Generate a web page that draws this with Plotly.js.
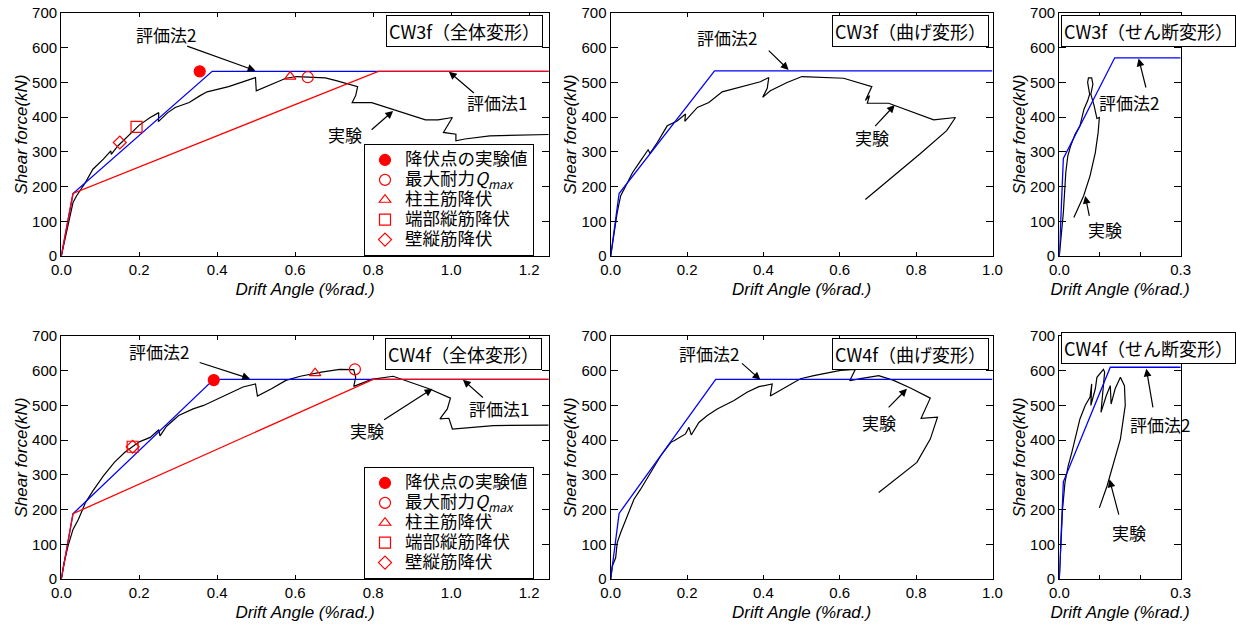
<!DOCTYPE html>
<html><head><meta charset="utf-8">
<script src="https://cdn.plot.ly/plotly-3.0.1.min.js"></script>
<style>html,body{margin:0;padding:0;background:#fff}#chart{width:1236px;height:626px}</style>
</head><body><div id="chart"></div>
<script>
// ---------- DATA ----------
// CW3f 全体変形
const cw3TotExpX = [0,0.017,0.03,0.039,0.062,0.081,0.108,0.127,0.128,0.145,0.172,0.2,0.228,0.25,0.249,0.273,0.292,0.328,0.356,0.374,0.429,0.475,0.498,0.5,0.521,0.549,0.576,0.604,0.631,0.677,0.705,0.76,0.755,0.746,0.796,0.833,0.934,0.966,1.003,0.98,1.012,1.012,1.035,1.099,1.25];
const cw3TotExpY = [0,87,154,173,212,250,279,303,293,317,346,377,399,413,387,413,428,442,462,473,488,505,514,476,486,500,512,517,516,513,505,488,462,442,442,428,392,392,399,356,351,332,337,346,350];
const cw3TotEv2X = [0,0.03,0.387,1.25];
const cw3TotEv2Y = [0,180,532,532];
const cw3TotEv1X = [0,0.03,0.813,1.25];
const cw3TotEv1Y = [0,180,532,532];
const cw3MarkX = [0.355,0.632,0.587,0.193,0.15];   // 降伏点, Qmax, 柱主筋, 端部縦筋, 壁縦筋
const cw3MarkY = [532,515,517,372,327];
// CW3f 曲げ変形
const cw3BenExpX = [0,0.009,0.017,0.026,0.039,0.057,0.078,0.098,0.103,0.122,0.148,0.174,0.196,0.194,0.227,0.257,0.292,0.34,0.392,0.414,0.41,0.398,0.418,0.462,0.501,0.61,0.684,0.667,0.678,0.672,0.728,0.846,0.903,0.88,0.809,0.667];
const cw3BenExpY = [0,67,125,173,202,240,274,306,296,327,375,389,409,388,428,442,473,486,502,514,483,457,476,500,517,512,488,448,462,440,440,392,399,361,293,163];
const cw3BenEv2X = [0,0.022,0.272,1.0];
const cw3BenEv2Y = [0,180,533,533];
// CW3f せん断変形
const cw3ShrExpX = [0,0.01,0.016,0.021,0.028,0.039,0.051,0.061,0.07,0.075,0.07,0.072,0.08,0.083,0.078,0.086,0.093,0.099,0.096,0.089,0.076,0.06,0.036];
const cw3ShrExpY = [0,125,240,288,317,351,375,423,447,466,500,513,513,495,466,433,396,399,356,298,231,173,111];
const cw3ShrEv2X = [0,0.01,0.137,0.3];
const cw3ShrEv2Y = [0,281,571,571];
// CW4f 全体変形
const cw4TotExpX = [0,0.007,0.017,0.03,0.044,0.062,0.081,0.108,0.136,0.163,0.2,0.228,0.25,0.253,0.255,0.27,0.301,0.338,0.365,0.402,0.439,0.466,0.498,0.503,0.539,0.576,0.613,0.667,0.714,0.75,0.755,0.75,0.796,0.851,0.943,0.998,0.99,0.971,0.994,1.003,1.108,1.25];
const cw4TotExpY = [0,46,94,143,172,220,254,297,336,365,395,408,430,412,415,440,471,490,500,519,538,553,562,527,548,572,584,596,604,603,581,555,575,584,548,521,490,461,463,432,442,443];
const cw4TotEv2X = [0,0.03,0.391,1.25];
const cw4TotEv2Y = [0,188,575,575];
const cw4TotEv1X = [0,0.03,0.8,1.25];
const cw4TotEv1Y = [0,188,575,575];
const cw4MarkX = [0.391,0.753,0.651,0.183,0.183];
const cw4MarkY = [573,604,593,381,381];
// CW4f 曲げ変形
const cw4BenExpX = [0,0.004,0.013,0.017,0.026,0.044,0.061,0.078,0.105,0.131,0.157,0.166,0.196,0.205,0.211,0.231,0.253,0.279,0.323,0.357,0.388,0.423,0.418,0.462,0.497,0.532,0.602,0.641,0.626,0.654,0.702,0.741,0.785,0.837,0.813,0.856,0.837,0.802,0.702];
const cw4BenExpY = [0,37,61,104,133,186,230,258,307,355,393,398,418,437,415,451,471,490,514,538,554,562,527,555,577,586,601,604,571,577,586,572,550,521,463,466,403,336,249];
const cw4BenEv2X = [0,0.022,0.275,1.0];
const cw4BenEv2Y = [0,189,575,575];
// CW4f せん断変形
const cw4ShrExpX = [0,0.004,0.008,0.014,0.022,0.031,0.039,0.051,0.064,0.076,0.08,0.078,0.089,0.093,0.109,0.112,0.103,0.116,0.126,0.128,0.138,0.151,0.161,0.163,0.151,0.134,0.118,0.099];
const cw4ShrExpY = [0,104,201,278,326,365,403,461,500,524,562,500,548,581,604,596,480,528,557,504,548,581,557,500,403,336,268,205];
const cw4ShrEv2X = [0,0.01,0.126,0.3];
const cw4ShrEv2Y = [0,280,610,610];

const markerNames = ['降伏点の実験値','最大耐力<i>Q</i><sub><i>max</i></sub>','柱主筋降伏','端部縦筋降伏','壁縦筋降伏'];
const panelTitles = ['CW3f（全体変形）','CW3f（曲げ変形）','CW3f（せん断変形）','CW4f（全体変形）','CW4f（曲げ変形）','CW4f（せん断変形）'];
const xTitle = 'Drift Angle (%rad.)';
const yTitle = 'Shear force(kN)';

// ---------- STYLE ----------
const W = 1236, H = 626;
const px = v => v / W, py = v => 1 - v / H;
const JP = 'Noto Sans CJK JP, sans-serif';
const LAT = 'Liberation Sans, Arial, sans-serif';
const BLUE = '#0000ff', RED = '#ff0000';

const traces = [];
function line(x, y, color, ax, w) {
  traces.push({x, y, type:'scatter', mode:'lines', line:{color, width:w||1.3}, showlegend:false, hoverinfo:'skip', xaxis:'x'+ax, yaxis:'y'+ax});
}
const symbols = [
  {symbol:'circle', size:11},
  {symbol:'circle-open', size:11},
  {symbol:'triangle-up-open', size:10},
  {symbol:'square-open', size:11},
  {symbol:'diamond-open', size:10}
];
function marks(mx, my, ax, legendId) {
  for (let i = 0; i < mx.length; i++) {
    traces.push({x:[mx[i]], y:[my[i]], type:'scatter', mode:'markers',
      name:'<span style="font-size:17.5px">' + markerNames[i] + '</span>',
      marker:{symbol:symbols[i].symbol, size:symbols[i].size, color:RED, line:{color:RED, width:1.2}},
      xaxis:'x'+ax, yaxis:'y'+ax, legend:legendId, showlegend:true});
  }
}
// panel 1
line(cw3TotExpX, cw3TotExpY, '#000', '', 1.2);
line(cw3TotEv2X, cw3TotEv2Y, BLUE, '');
line(cw3TotEv1X, cw3TotEv1Y, RED, '');
marks(cw3MarkX, cw3MarkY, '', 'legend');
// panel 2
line(cw3BenExpX, cw3BenExpY, '#000', '2', 1.2);
line(cw3BenEv2X, cw3BenEv2Y, BLUE, '2');
// panel 3
line(cw3ShrExpX, cw3ShrExpY, '#000', '3', 1.2);
line(cw3ShrEv2X, cw3ShrEv2Y, BLUE, '3');
// panel 4
line(cw4TotExpX, cw4TotExpY, '#000', '4', 1.2);
line(cw4TotEv2X, cw4TotEv2Y, BLUE, '4');
line(cw4TotEv1X, cw4TotEv1Y, RED, '4');
marks(cw4MarkX, cw4MarkY, '4', 'legend2');
// panel 5
line(cw4BenExpX, cw4BenExpY, '#000', '5', 1.2);
line(cw4BenEv2X, cw4BenEv2Y, BLUE, '5');
// panel 6
line(cw4ShrExpX, cw4ShrExpY, '#000', '6', 1.2);
line(cw4ShrEv2X, cw4ShrEv2Y, BLUE, '6');

const colsX = [[61.3,548.7],[610.7,992.5],[1059.3,1180.7]];
const rowsY = [[13,256],[336,579]];
const xRanges = [[0,1.25],[0,1.0],[0,0.3]];

function xAxis(col, row, anchor) {
  const a = {
    domain:[px(colsX[col][0]), px(colsX[col][1])], anchor, range:xRanges[col],
    showline:true, linecolor:'#000', linewidth:1.2, mirror:'ticks', ticks:'inside', ticklen:4, tickwidth:1, tickcolor:'#000',
    showgrid:false, zeroline:false, fixedrange:true,
    tickfont:{family:LAT, size:15, color:'#000'},
    title:{text:'<i>'+xTitle+'</i>', standoff:5, font:{family:LAT, size:17, color:'#000'}}
  };
  if (col === 2) { a.tickvals = [0,0.1,0.2,0.3]; a.ticktext = ['0.0','','','0.3']; }
  else { a.dtick = 0.2; a.tickformat = '.1f'; }
  return a;
}
function yAxis(col, row, anchor) {
  return {
    domain:[py(rowsY[row][1]), py(rowsY[row][0])], anchor, range:[0,700], dtick:100,
    showline:true, linecolor:'#000', linewidth:1.2, mirror:'ticks', ticks:'inside', ticklen:7, tickwidth:1, tickcolor:'#000',
    showgrid:false, zeroline:false, fixedrange:true,
    tickfont:{family:LAT, size:15, color:'#000'},
    title:{text:'<i>'+yTitle+'</i>', standoff:0, font:{family:LAT, size:17, color:'#000'}}
  };
}

const layout = {
  width:W, height:H, margin:{l:0,r:0,t:0,b:0}, paper_bgcolor:'#fff', plot_bgcolor:'#fff',
  font:{family:JP, color:'#000'}, showlegend:true,
  legend:{x:px(364), y:py(144), xanchor:'left', yanchor:'top', bgcolor:'#fff', bordercolor:'#000', borderwidth:1,
    font:{family:JP, size:13, color:'#000'}, tracegroupgap:0},
  legend2:{x:px(364), y:py(467), xanchor:'left', yanchor:'top', bgcolor:'#fff', bordercolor:'#000', borderwidth:1,
    font:{family:JP, size:13, color:'#000'}, tracegroupgap:0},
  annotations:[], shapes:[]
};
const axIds = ['', '2', '3', '4', '5', '6'];
for (let r = 0; r < 2; r++) for (let c = 0; c < 3; c++) {
  const k = r*3 + c, id = axIds[k];
  layout['xaxis'+id] = xAxis(c, r, 'y'+id);
  layout['yaxis'+id] = yAxis(c, r, 'x'+id);
}

function label(ax, text, x, y) {
  layout.annotations.push({xref:'x'+ax, yref:'y'+ax, x, y, text, showarrow:false, xanchor:'center', yanchor:'middle',
    font:{family:JP, size:17, color:'#000'}});
}
function arrow(ax, tx, ty, hx, hy) {
  layout.annotations.push({xref:'x'+ax, yref:'y'+ax, axref:'x'+ax, ayref:'y'+ax, x:hx, y:hy, ax:tx, ay:ty, text:'',
    showarrow:true, arrowhead:2, arrowsize:1.3, arrowwidth:1.2, arrowcolor:'#000', standoff:0});
}
function boxTitle(text, cx, cy) {
  layout.annotations.push({xref:'paper', yref:'paper', x:px(cx), y:py(cy), xanchor:'center', yanchor:'middle', text, showarrow:false,
    font:{family:JP, size:18, color:'#000'}, bordercolor:'#000', borderwidth:1, borderpad:2, bgcolor:'#fff'});
}
// panel 1
label('', '評価法2', 0.269, 639); arrow('', 0.319, 606, 0.498, 534);
label('', '評価法1', 1.117, 442); arrow('', 1.062, 466, 0.994, 531);
label('', '実験', 0.728, 351); arrow('', 0.792, 360, 0.851, 418);
// panel 2
label('2', '評価法2', 0.305, 630); arrow('2', 0.41, 596, 0.466, 536);
label('2', '実験', 0.684, 341); arrow('2', 0.689, 370, 0.744, 435);
// panel 3
label('3', '評価法2', 0.171, 442); arrow('3', 0.215, 481, 0.196, 569);
label('3', '実験', 0.113, 77); arrow('3', 0.075, 111, 0.064, 173);
// panel 4
label('4', '評価法2', 0.25, 654); arrow('4', 0.351, 625, 0.484, 577);
label('4', '評価法1', 1.122, 490); arrow('4', 1.085, 519, 1.03, 574);
label('4', '実験', 0.783, 427); arrow('4', 0.824, 456, 0.952, 548);
// panel 5
label('5', '評価法2', 0.257, 649); arrow('5', 0.34, 625, 0.392, 574);
label('5', '実験', 0.704, 451); arrow('5', 0.724, 490, 0.776, 548);
// panel 6
label('6', '評価法2', 0.25, 446); arrow('6', 0.232, 490, 0.215, 606);
label('6', '実験', 0.172, 135); arrow('6', 0.148, 181, 0.124, 287);

boxTitle(panelTitles[0], 464.5, 31);
boxTitle(panelTitles[1], 910.5, 31);
boxTitle(panelTitles[2], 1148, 31);
boxTitle(panelTitles[3], 463, 354);
boxTitle(panelTitles[4], 910.5, 354);
boxTitle(panelTitles[5], 1148, 348);

Plotly.newPlot('chart', traces, layout, {displayModeBar:false, staticPlot:true});
</script></body></html>
